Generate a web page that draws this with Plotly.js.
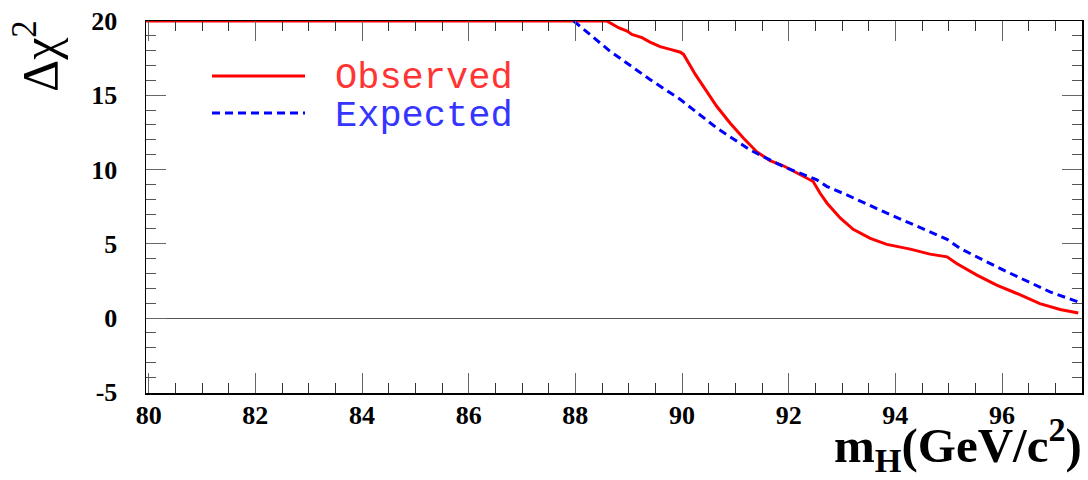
<!DOCTYPE html>
<html>
<head>
<meta charset="utf-8">
<script src="https://cdn.plot.ly/plotly-3.0.1.min.js"></script>
<style>html,body{margin:0;padding:0;background:#fff;}#chart{width:1088px;height:480px;}</style>
</head>
<body>
<div id="chart"></div>
<script>
// Observed curve (m_H in GeV/c^2, delta chi^2)
const obsX = [79.95, 88.59, 88.81, 88.97, 89.06, 89.25, 89.40, 89.59, 89.78, 89.97, 90.03, 90.25, 90.40, 90.65, 90.90, 91.15, 91.40, 91.65, 91.90, 92.15, 92.46, 92.59, 92.72, 92.97, 93.21, 93.53, 93.84, 94.28, 94.65, 94.97, 95.15, 95.53, 95.90, 96.28, 96.71, 97.09, 97.43];
const obsY = [20, 20, 19.55, 19.32, 19.1, 18.88, 18.58, 18.27, 18.09, 17.9, 17.75, 16.4, 15.6, 14.26, 13.13, 12.12, 11.2, 10.59, 10.25, 9.76, 9.19, 8.4, 7.73, 6.72, 5.97, 5.36, 4.96, 4.64, 4.30, 4.12, 3.67, 2.89, 2.21, 1.65, 0.97, 0.57, 0.34];
// Expected curve
const expX = [87.97, 88.65, 89.40, 89.97, 90.65, 91.28, 91.90, 92.53, 92.72, 93.09, 93.78, 94.78, 94.97, 95.21, 96.03, 96.90, 97.43];
const expY = [20, 17.97, 16.06, 14.71, 12.8, 11.31, 10.2, 9.3, 8.85, 8.29, 7.16, 5.59, 5.3, 4.69, 3.22, 1.76, 1.08];
// Tick labels
const xTickVals = [80, 82, 84, 86, 88, 90, 92, 94, 96];
const xTickText = ["80", "82", "84", "86", "88", "90", "92", "94", "96"];
const yTickVals = [-5, 0, 5, 10, 15, 20];
const yTickText = ["-5", "0", "5", "10", "15", "20"];
const seriesNames = ["Observed", "Expected"];

const W = 1088, H = 480;
const mL = 146, mR = 6, mT = 21, mB = 87;
const pw = W - mL - mR, ph = H - mT - mB;
const px = v => (v - mL) / pw;          // pixel -> paper x
const py = v => (H - mB - v) / ph;      // pixel -> paper y

const tickFont = {family: "Liberation Serif", size: 26, color: "#000", weight: "bold"};

const traces = [
  {x: obsX, y: obsY, type: "scatter", mode: "lines", name: seriesNames[0],
   line: {color: "#ff0000", width: 3}, showlegend: false, hoverinfo: "skip"},
  {x: expX, y: expY, type: "scatter", mode: "lines", name: seriesNames[1],
   line: {color: "#0000ff", width: 3, dash: "8px,5px"}, showlegend: false, hoverinfo: "skip"}
];

const layout = {
  width: W, height: H,
  margin: {l: mL, r: mR, t: mT, b: mB, pad: 0},
  paper_bgcolor: "#fff", plot_bgcolor: "#fff",
  showlegend: false,
  xaxis: {
    range: [79.95, 97.5], showgrid: false, zeroline: false,
    showline: true, linecolor: "#000", linewidth: 1.5, mirror: "ticks",
    ticks: "inside", ticklen: 20, tickwidth: 1, tickcolor: "#666",
    tickvals: xTickVals, ticktext: xTickText, tickfont: tickFont,
    ticklabelstandoff: -2,
    minor: {dtick: 0.5, ticks: "inside", ticklen: 10, tickwidth: 1, tickcolor: "#333", showgrid: false}
  },
  yaxis: {
    range: [-5.05, 20], showgrid: false,
    zeroline: true, zerolinecolor: "#555", zerolinewidth: 1,
    showline: true, linecolor: "#000", linewidth: 1.5, mirror: "ticks",
    ticks: "inside", ticklen: 20, tickwidth: 1, tickcolor: "#666",
    tickvals: yTickVals, ticktext: yTickText, tickfont: tickFont,
    ticklabelstandoff: 22,
    minor: {dtick: 1, ticks: "inside", ticklen: 10, tickwidth: 1, tickcolor: "#555", showgrid: false}
  },
  shapes: [
    {type: "line", xref: "paper", yref: "paper", x0: px(212), x1: px(305), y0: py(76), y1: py(76),
     line: {color: "#ff0000", width: 3}},
    {type: "line", xref: "paper", yref: "paper", x0: px(212), x1: px(305), y0: py(113), y1: py(113),
     line: {color: "#0000ff", width: 3, dash: "8px,5px"}}
  ],
  annotations: [
    {text: seriesNames[0], xref: "paper", yref: "paper", x: px(333), y: py(78), xanchor: "left", yanchor: "middle",
     showarrow: false, font: {family: "Liberation Mono", size: 37, color: "#ff3535"}},
    {text: seriesNames[1], xref: "paper", yref: "paper", x: px(333), y: py(116), xanchor: "left", yanchor: "middle",
     showarrow: false, font: {family: "Liberation Mono", size: 37, color: "#3535ff"}},
    {text: "Δχ<sup>2</sup>", xref: "paper", yref: "paper", x: px(36), y: py(18), xanchor: "center", yanchor: "top",
     textangle: -90, showarrow: false, font: {family: "Liberation Serif", size: 50, color: "#000"}},
    {text: "<b>m<sub>H</sub>(GeV/c<sup>2</sup>)</b>", xref: "paper", yref: "paper", x: px(1084), y: py(445),
     xanchor: "right", yanchor: "middle", showarrow: false,
     font: {family: "Liberation Serif", size: 49, color: "#000"}}
  ]
};

Plotly.newPlot("chart", traces, layout, {staticPlot: true, displayModeBar: false});
</script>
</body>
</html>
